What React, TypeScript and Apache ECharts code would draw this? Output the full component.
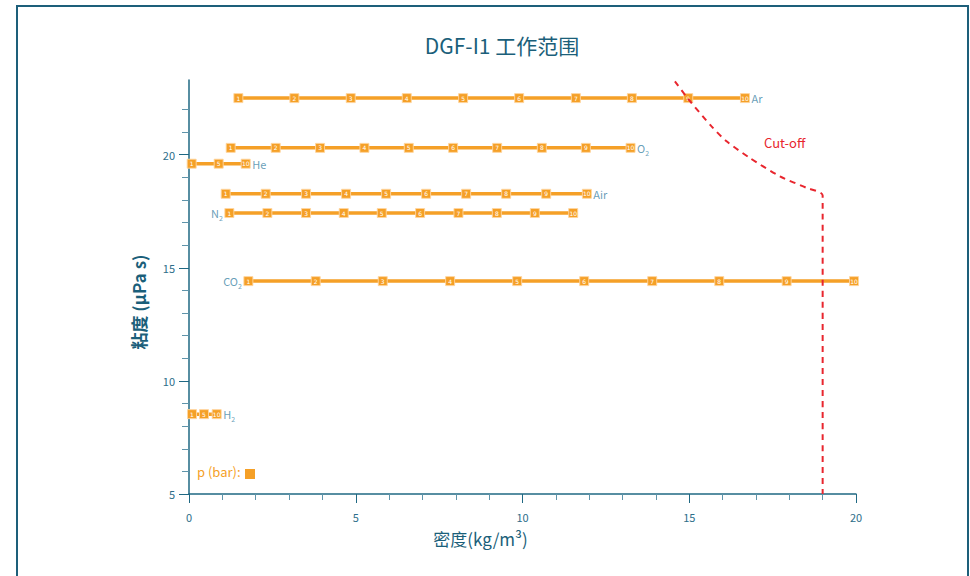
import React, { useEffect, useRef } from "react";
import * as echarts from "echarts";

const titleText = "DGF-I1 工作范围";
const xAxisName = "密度(kg/m³)";
const yAxisName = "粘度 (µPa s)";

const pressures10 = [1, 2, 3, 4, 5, 6, 7, 8, 9, 10];
const pressures3 = [1, 5, 10];

const densityAr = [1.48, 3.16, 4.85, 6.53, 8.22, 9.9, 11.6, 13.28, 14.97, 16.67];
const densityO2 = [1.25, 2.6, 3.93, 5.26, 6.59, 7.92, 9.24, 10.58, 11.9, 13.24];
const densityHe = [0.08, 0.89, 1.7];
const densityAir = [1.1, 2.3, 3.51, 4.71, 5.91, 7.11, 8.31, 9.51, 10.71, 11.93];
const densityN2 = [1.21, 2.35, 3.51, 4.64, 5.78, 6.93, 8.08, 9.23, 10.37, 11.52];
const densityCO2 = [1.78, 3.8, 5.81, 7.83, 9.84, 11.85, 13.89, 15.9, 17.92, 19.94];
const densityH2 = [0.09, 0.45, 0.83];

const viscosityAr = 22.5;
const viscosityO2 = 20.3;
const viscosityHe = 19.6;
const viscosityAir = 18.27;
const viscosityN2 = 17.42;
const viscosityCO2 = 14.41;
const viscosityH2 = 8.53;

const cutoffDensity = [14.57, 14.97, 15.67, 16.12, 16.82, 17.72, 18.52, 19.0, 19.0];
const cutoffViscosity = [23.24, 22.46, 21.25, 20.59, 19.85, 19.04, 18.53, 18.19, 5];

const yMajorTicks = [5, 10, 15, 20];
const yMinorTicks = [6, 7, 8, 9, 11, 12, 13, 14, 16, 17, 18, 19, 21, 22];

const ORANGE = "#f5a027";
const TEAL = "#1f6883";
const TEAL_LABEL = "#3f86a6";
const RED = "#e8262e";
const FONT = "'Noto Sans CJK SC', 'Noto Sans', sans-serif";

type Gas = {
  id: string;
  main: string;
  sub: string;
  dens: number[];
  visc: number;
  press: number[];
  side: "left" | "right";
};

const gases: Gas[] = [
  { id: "Ar", main: "Ar", sub: "", dens: densityAr, visc: viscosityAr, press: pressures10, side: "right" },
  { id: "O2", main: "O", sub: "2", dens: densityO2, visc: viscosityO2, press: pressures10, side: "right" },
  { id: "He", main: "He", sub: "", dens: densityHe, visc: viscosityHe, press: pressures3, side: "right" },
  { id: "Air", main: "Air", sub: "", dens: densityAir, visc: viscosityAir, press: pressures10, side: "right" },
  { id: "N2", main: "N", sub: "2", dens: densityN2, visc: viscosityN2, press: pressures10, side: "left" },
  { id: "CO2", main: "CO", sub: "2", dens: densityCO2, visc: viscosityCO2, press: pressures10, side: "left" },
  { id: "H2", main: "H", sub: "2", dens: densityH2, visc: viscosityH2, press: pressures3, side: "right" },
];

export default function App() {
  const ref = useRef<HTMLDivElement>(null);

  useEffect(() => {
    document.body.style.margin = "0";
    if (!ref.current) return;
    const chart = echarts.init(ref.current, null, { renderer: "svg" });

    const series: any[] = [];
    gases.forEach((g) => {
      series.push({
        type: "line",
        name: g.id,
        clip: false,
        z: 3,
        data: g.dens.map((d, i) => [d, g.visc, g.press[i]]),
        symbol: "rect",
        symbolSize: 9,
        lineStyle: { color: ORANGE, width: 3.5 },
        itemStyle: { color: ORANGE, borderColor: "rgba(255,214,160,0.9)", borderWidth: 1 },
        label: {
          show: true,
          position: "inside",
          formatter: (p: any) => String(p.data[2]),
          color: "#fff",
          fontSize: 6,
          fontFamily: "'DejaVu Sans', sans-serif",
        },
      });
      const endDens = g.side === "right" ? g.dens[g.dens.length - 1] : g.dens[0];
      series.push({
        type: "scatter",
        name: g.id + "-label",
        clip: false,
        z: 4,
        silent: true,
        symbolSize: 1,
        itemStyle: { color: "rgba(0,0,0,0)" },
        data: [[endDens, g.visc]],
        label: {
          show: true,
          position: g.side,
          distance: 6,
          formatter: g.sub ? `{a|${g.main}}{b|${g.sub}}` : `{a|${g.main}}`,
          rich: {
            a: { fontSize: 11, color: TEAL_LABEL, fontFamily: FONT, verticalAlign: "bottom" },
            b: { fontSize: 7, color: TEAL_LABEL, fontFamily: FONT, verticalAlign: "bottom", padding: [0, 0, -3, 0] },
          },
        },
      });
    });

    series.push({
      type: "line",
      name: "Cut-off",
      z: 6,
      clip: false,
      symbol: "none",
      smooth: 0.25,
      data: cutoffDensity.map((d, i) => [d, cutoffViscosity[i]]),
      lineStyle: { color: RED, width: 2, type: [6, 5] },
    });

    const option: any = {
      animation: false,
      backgroundColor: "#ffffff",
      textStyle: { fontFamily: FONT },
      title: {
        text: titleText,
        left: 497,
        top: 29,
        textAlign: "center",
        textStyle: { color: "#1b5f7a", fontSize: 21, fontWeight: "normal", fontFamily: FONT },
      },
      grid: { left: 189, right: 114, top: 80, bottom: 82, containLabel: false },
      xAxis: {
        type: "value",
        min: 0,
        max: 20,
        interval: 5,
        name: xAxisName,
        nameLocation: "middle",
        nameGap: 36,
        nameTextStyle: { color: "#1b5f7a", fontSize: 17, padding: [0, 84, 0, 0], fontFamily: FONT },
        axisLine: { show: true, lineStyle: { color: TEAL, width: 1.5 } },
        axisTick: { show: true, length: 9, lineStyle: { color: TEAL } },
        minorTick: { show: true, splitNumber: 5, length: 6, lineStyle: { color: "#5f94aa" } },
        axisLabel: { color: "#2e6e8a", fontSize: 11, margin: 17, fontFamily: FONT },
        splitLine: { show: false },
      },
      yAxis: [
        {
          type: "value",
          min: 5,
          max: 23.3,
          name: yAxisName,
          nameLocation: "middle",
          nameGap: 42,
          nameRotate: 90,
          nameTextStyle: { color: "#1b5f7a", fontSize: 17, fontWeight: "bold", padding: [0, 30, 0, 0], fontFamily: FONT },
          axisLine: { show: true, lineStyle: { color: TEAL, width: 1.5 } },
          axisTick: { show: true, customValues: yMajorTicks, length: 10, lineStyle: { color: TEAL } },
          axisLabel: { customValues: yMajorTicks, color: "#2e6e8a", fontSize: 11, margin: 14, fontFamily: FONT },
          splitLine: { show: false },
        },
        {
          type: "value",
          min: 5,
          max: 23.3,
          position: "left",
          axisLine: { show: false },
          axisTick: { show: true, customValues: yMinorTicks, length: 7, lineStyle: { color: "#5f94aa" } },
          axisLabel: { show: false },
          splitLine: { show: false },
        },
      ],
      graphic: [
        {
          type: "rect",
          z: -1,
          shape: { x: 17, y: 6, width: 951, height: 620 },
          style: { fill: "none", stroke: "#1d5f7a", lineWidth: 2 },
          silent: true,
        },
        {
          type: "text",
          left: 764,
          top: 136,
          style: { text: "Cut-off", fill: RED, fontSize: 13, fontFamily: FONT },
        },
        {
          type: "text",
          left: 197,
          top: 465,
          style: { text: "p (bar):", fill: ORANGE, fontSize: 13, fontFamily: FONT },
        },
        {
          type: "rect",
          shape: { x: 245, y: 469, width: 10, height: 10 },
          style: { fill: ORANGE },
        },
      ],
      series,
    };

    chart.setOption(option);
    return () => chart.dispose();
  }, []);

  return <div ref={ref} style={{ width: 970, height: 576 }} />;
}
